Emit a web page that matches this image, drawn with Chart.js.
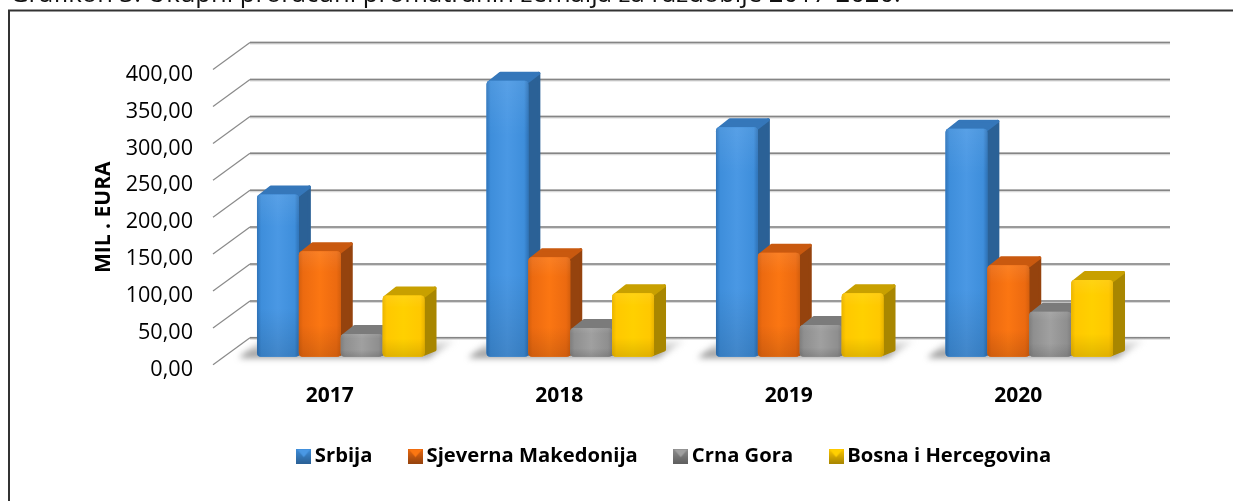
<!DOCTYPE html>
<html><head><meta charset="utf-8">
<style>html,body{margin:0;padding:0;background:#fff;overflow:hidden}canvas{display:block}</style>
<script src="https://cdn.jsdelivr.net/npm/chart.js@4"></script>
</head><body><div style="width:1233px;height:501px;position:relative"><canvas id="c" width="1233" height="501"></canvas></div>
<script>
const categories = ['2017','2018','2019','2020'];
const srbija = [220,374,311,309];
const makedonija = [143,135,141,124];
const crnaGora = [31,39,43,61];
const bih = [83,86,86,104];
const tickValues = [0,50,100,150,200,250,300,350,400];
const seriesNames = ['Srbija','Sjeverna Makedonija','Crna Gora','Bosna i Hercegovina'];
const chartTitle = 'Grafikon 3. Ukupni proračuni promatranih zemalja za razdoblje 2017-2020.';
const yTitle = 'MIL . EURA';
const fontFam = '"Open Sans","Noto Sans",sans-serif';
const pal = [
 {front:'#3e8edb',light:'#4a98e4',dark:'#2f73b8',side:'#2b6196',top:'#3577ba'},
 {front:'#ec6a10',light:'#fb7612',dark:'#d65f0c',side:'#95430e',top:'#c9590f'},
 {front:'#8f8f8f',light:'#a0a0a0',dark:'#7f7f7f',side:'#5f5f5f',top:'#7b7b7b'},
 {front:'#ffc800',light:'#ffd000',dark:'#eab400',side:'#a88600',top:'#c8a000'}
];
const DX=11, DY=-8, SX=12, SY=-9, BX=37, BY=-27;
function marker(p){
  const c=document.createElement('canvas');c.width=15;c.height=15;const g=c.getContext('2d');
  const body=g.createLinearGradient(0,0,0,15);body.addColorStop(0,p.front);body.addColorStop(1,p.side);
  g.fillStyle=body;g.fillRect(0,0,15,15);
  g.fillStyle=p.light;g.beginPath();g.moveTo(1,1);g.lineTo(14,1);g.lineTo(7.5,8.5);g.fill();
  return c;
}
function rr(g,x,y,w,h,r){g.beginPath();g.roundRect(x,y,w,h,r);}
const view3d = {
  id:'view3d',
  afterLayout(ch){
    const l=ch.legend; l.left=103; l.right=1251; l.top=404;
    const t=ch.titleBlock; t.top=-18; t.left=10;
  },
  beforeDraw(ch){
    const g=ch.ctx, a=ch.chartArea, ys=ch.scales.y;
    g.save();
    g.fillStyle='#fff';g.fillRect(0,0,1233,501);
    g.strokeStyle='#333';g.lineWidth=2;g.strokeRect(9,10.5,1260,520);
    ys.ticks.forEach(t=>{
      const y=ys.getPixelForValue(t.value);
      g.strokeStyle='#8a8a8a';g.lineWidth=1.2;
      g.beginPath();g.moveTo(a.left-2,y);g.lineTo(a.left-2+BX,y+BY);g.stroke();
      g.strokeStyle='rgba(170,170,170,.45)';g.lineWidth=3;
      g.beginPath();g.moveTo(a.left-2+BX,y+BY+.5);g.lineTo(a.right+BX,y+BY+.5);g.stroke();
      g.strokeStyle='#858585';g.lineWidth=1.5;
      g.beginPath();g.moveTo(a.left-2+BX,y+BY);g.lineTo(a.right+BX,y+BY);g.stroke();
    });
    g.restore();
  },
  beforeDatasetDraw(){ return false; },
  afterDatasetsDraw(ch){
    const g=ch.ctx, a=ch.chartArea;
    g.save();
    const first=ch.getDatasetMeta(0).data, last=ch.getDatasetMeta(3).data;
    first.forEach((b,i)=>{
      const x0=b.x-b.width/2+DX, x1=last[i].x+last[i].width/2+DX, y=a.bottom+DY;
      g.save();g.filter='blur(3px)';
      const gr=g.createLinearGradient(0,y-16,0,y+1);
      gr.addColorStop(0,'rgba(170,170,170,.2)');gr.addColorStop(1,'rgba(105,105,105,.85)');
      g.fillStyle=gr;
      g.beginPath();g.moveTo(x0-18,y+1);g.lineTo(x1+4,y+1);g.lineTo(x1+31,y-16);g.lineTo(x0+3,y-16);g.closePath();g.fill();
      g.restore();
    });
    g.translate(DX,DY);
    ch.data.datasets.forEach((ds,idx)=>{
      const meta=ch.getDatasetMeta(idx),p=pal[idx];
      meta.data.forEach(b=>{
        const l=b.x-b.width/2,r=b.x+b.width/2,t=b.y,bot=b.base;
        g.save();g.lineJoin='round';
        g.fillStyle=p.side;g.strokeStyle=p.side;g.lineWidth=3;
        g.beginPath();g.moveTo(r-2,t+2);g.lineTo(r+SX-1.5,t+SY+1.5);g.lineTo(r+SX-1.5,bot+SY+2);g.lineTo(r-2,bot-2);g.closePath();g.fill();g.stroke();
        g.fillStyle=p.top;g.strokeStyle=p.top;
        g.beginPath();g.moveTo(l+2,t+2);g.lineTo(l+SX+2,t+SY+1.5);g.lineTo(r+SX-1.5,t+SY+1.5);g.lineTo(r-2,t+2);g.closePath();g.fill();g.stroke();
        g.restore();
      });
      meta.controller.draw();
      meta.data.forEach(b=>{
        const l=b.x-b.width/2,t=b.y,h=b.base-b.y;
        g.save();
        const gr=g.createLinearGradient(l,0,l+b.width,0);
        gr.addColorStop(0,p.dark);gr.addColorStop(.1,p.front);gr.addColorStop(.5,p.light);gr.addColorStop(.9,p.front);gr.addColorStop(1,p.dark);
        g.fillStyle=gr;rr(g,l,t,b.width,h,4);g.fill();
        const v=g.createLinearGradient(0,t,0,t+h);
        v.addColorStop(0,'rgba(255,255,255,.08)');v.addColorStop(.2,'rgba(255,255,255,0)');v.addColorStop(.7,'rgba(0,0,0,0)');v.addColorStop(1,'rgba(0,0,0,.12)');
        g.fillStyle=v;rr(g,l,t,b.width,h,4);g.fill();
        g.restore();
      });
    });
    g.restore();
  }
};
const series=[srbija,makedonija,crnaGora,bih];
new Chart(document.getElementById('c'),{
  type:'bar',
  data:{labels:categories,datasets:series.map((d,i)=>({
    label:seriesNames[i],data:d,backgroundColor:pal[i].front,clip:false,
    pointStyle:marker(pal[i]),barPercentage:1,categoryPercentage:0.73,borderRadius:4,borderSkipped:false
  }))},
  options:{
    responsive:false,animation:false,
    layout:{padding:{left:9,right:100,top:44,bottom:0}},
    plugins:{
      title:{display:true,text:chartTitle,align:'start',color:'#111',padding:0,
        font:{family:fontFam,size:25.6,weight:'normal',lineHeight:1}},
      legend:{position:'bottom',labels:{usePointStyle:true,pointStyleWidth:2,padding:42,color:'#000',
        font:{family:fontFam,size:20.2,weight:'bold'}}},
      tooltip:{enabled:false}
    },
    scales:{
      x:{grid:{display:false},border:{display:false},
        ticks:{padding:11,color:'#000',font:{family:fontFam,size:21,weight:'bold'}},
        afterFit(s){s.height=64;}},
      y:{min:0,max:400,grid:{display:false},border:{display:false},
        afterBuildTicks(s){s.ticks=tickValues.map(v=>({value:v}));},
        ticks:{padding:14,labelOffset:5,color:'#000',font:{family:fontFam,size:21.6},
          callback:v=>v.toFixed(2).replace('.',',')},
        title:{display:true,text:yTitle,color:'#000',font:{family:fontFam,size:21,weight:'bold'},padding:{top:82,bottom:0}},
        afterFit(s){s.width=206;}}
    }
  },
  plugins:[view3d]
});
</script></body></html>
